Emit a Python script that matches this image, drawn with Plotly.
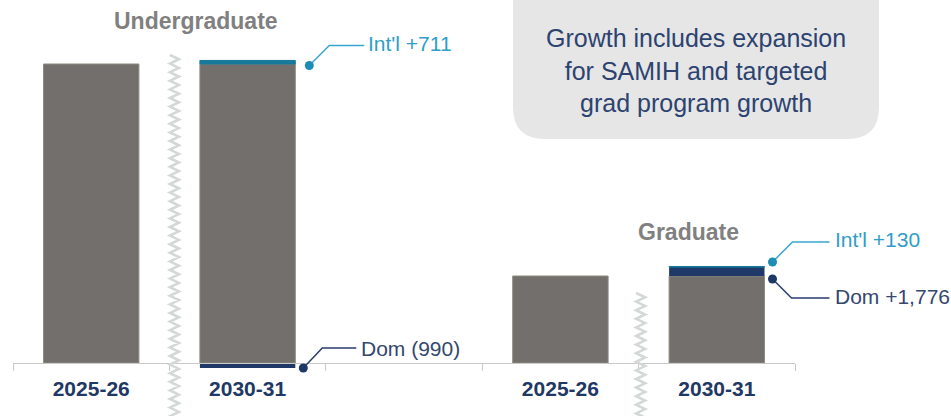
import plotly.graph_objects as go

# ---------------- data (value axis is broken, bases are estimates) -----
levels = ["Undergraduate", "Graduate"]
periods = ["2025-26", "2030-31"]
base_2025 = [59800, 17400]          # height of the 2025-26 bars (same base reused for 2030-31)
dom_change = [-990, 1776]           # domestic change 2025-26 -> 2030-31
intl_change = [711, 130]            # international change 2025-26 -> 2030-31
dom_labels = ["Dom (990)", "Dom +1,776"]
intl_labels = ["Int'l +711", "Int'l +130"]
note_lines = ["Growth includes expansion", "for SAMIH and targeted", "grad program growth"]

GAP = "gap"
cats = [f"{levels[0]} {p}" for p in periods] + [GAP] + [f"{levels[1]} {p}" for p in periods]
tick_text = periods + [""] + periods

# ---------------- styling / layout constants ----------------
W, H = 951, 416
ML, MR, MT, MB = 13, 156, 0, 0
PLOT_W = W - ML - MR
PLOT_H = H - MT - MB
UNITS_PER_PX = 200
ZERO_ROW = 363                       # pixel row of the baseline
y_range = [-(PLOT_H - (ZERO_ROW - MT)) * UNITS_PER_PX, (ZERO_ROW - MT) * UNITS_PER_PX]
x_range = [-0.5, len(cats) - 0.5]
axis_pos = -y_range[0] / (y_range[1] - y_range[0])
BAR_W = 0.61
HALF = BAR_W / 2

GRAY = "#736f6d"
GRAY_EDGE = "#8d8c7e"
NAVY = "#1e3867"
TEAL = "#17799b"
TEAL_LINE = "#3aa6cf"
TEAL_DOT = "#1c8db5"
TEAL_TEXT = "#2e9ec8"
NAVY_LINE = "#2b3d6d"
NAVY_TEXT = "#34476f"
TITLE_GRAY = "#808080"
AXIS = "#c9c9c9"
ZIG = "#d5d8d8"
BOX = "#e6e6e6"
NOTE = "#2c4370"
FONT = "Liberation Sans, Arial, sans-serif"

fig = go.Figure()

ug25, ug30, gr25, gr30 = cats[0], cats[1], cats[3], cats[4]
fig.add_bar(x=[ug25, ug30, gr25, gr30],
            y=[base_2025[0], base_2025[0], base_2025[1], base_2025[1]],
            width=BAR_W, marker=dict(color=GRAY, line=dict(color=GRAY_EDGE, width=1)),
            hoverinfo="skip", showlegend=False)
fig.add_bar(x=[ug30, gr30], y=dom_change, width=BAR_W,
            marker=dict(color=NAVY, line=dict(width=0)), hoverinfo="skip", showlegend=False)
fig.add_bar(x=[ug30, gr30], y=intl_change, width=BAR_W,
            marker=dict(color=TEAL, line=dict(color=TEAL, width=1)), hoverinfo="skip", showlegend=False)

shapes = []
annotations = []


def px_paper(px, py):
    return (px - ML) / PLOT_W, 1 - (py - MT) / PLOT_H


def x_to_paper(idx):
    return (idx - x_range[0]) / (x_range[1] - x_range[0])


def y_to_paper(v):
    return (v - y_range[0]) / (y_range[1] - y_range[0])


# rounded note box (paper anchored, pixel geometry)
def box_path(left, right, top, bottom, r):
    def P(px, py):
        return f"{px - ML:.1f},{-(py - MT):.1f}"
    return (f"M{P(left, top)} L{P(left, bottom - r)} Q{P(left, bottom)} {P(left + r, bottom)} "
            f"L{P(right - r, bottom)} Q{P(right, bottom)} {P(right, bottom - r)} L{P(right, top)} Z")


shapes.append(dict(type="path", xref="paper", yref="paper", xsizemode="pixel", ysizemode="pixel",
                   xanchor=0, yanchor=1, path=box_path(513, 879, -40, 139, 32),
                   fillcolor=BOX, line=dict(width=0), layer="below"))


# axis-break zigzags
def zigzag(x_anchor, dx, top, bottom, amp=4.5, step=4.3):
    pts = []
    y = top
    i = 0
    while y > bottom:
        pts.append((dx + (amp if i % 2 else -amp), y))
        y -= step
        i += 1
    path = "M" + " L".join(f"{a:.1f},{b:.1f}" for a, b in pts)
    return dict(type="path", xref="x", yref="y", xsizemode="pixel", ysizemode="pixel",
                xanchor=x_anchor, yanchor=0, path=path, line=dict(color=ZIG, width=2.6), layer="above")


shapes.append(zigzag(cats.index(ug25) + 0.5, 5, ZERO_ROW - 55, -60))
shapes.append(zigzag(cats.index(gr25) + 0.5, 2, ZERO_ROW - 293, -60))


# callouts: leader (dot + elbow line) anchored on the bar's right edge at a data value
def callout(cat, yv, pts, line_color, dot_color, text, text_color, tdx, tdy):
    xa = cats.index(cat) + HALF
    xp, yp = x_to_paper(xa), y_to_paper(yv)
    path = "M" + " L".join(f"{a},{b}" for a, b in pts)
    shapes.append(dict(type="path", xref="paper", yref="paper", xsizemode="pixel", ysizemode="pixel",
                       xanchor=xp, yanchor=yp, path=path, line=dict(color=line_color, width=1.5)))
    dx, dy = pts[0]
    shapes.append(dict(type="circle", xref="paper", yref="paper", xsizemode="pixel", ysizemode="pixel",
                       xanchor=xp, yanchor=yp, x0=dx - 4.5, x1=dx + 4.5, y0=dy - 4.5, y1=dy + 4.5,
                       fillcolor=dot_color, line=dict(width=0)))
    annotations.append(dict(x=xa, y=yv, xref="x", yref="y", xshift=tdx, yshift=tdy,
                            xanchor="left", yanchor="middle", showarrow=False, text=text,
                            font=dict(family=FONT, size=21, color=text_color)))


callout(ug30, base_2025[0] + intl_change[0], [(14, -5), (34, 15), (69, 15)],
        TEAL_LINE, TEAL_DOT, intl_labels[0], TEAL_TEXT, 71, 17)
callout(ug30, dom_change[0], [(8, 0), (27, 20), (61, 20)],
        NAVY_LINE, NAVY, dom_labels[0], NAVY_TEXT, 64, 19)
callout(gr30, base_2025[1] + dom_change[1] + intl_change[1], [(8, 4.5), (28, 24.5), (65, 24.5)],
        TEAL_LINE, TEAL_DOT, intl_labels[1], TEAL_TEXT, 68, 27)
callout(gr30, base_2025[1], [(8, -3), (27, -22), (65, -22)],
        NAVY_LINE, NAVY, dom_labels[1], NAVY_TEXT, 68, -20)

# group titles
for lvl, (cx, cy) in zip(levels, [(196, 21), (688, 232)]):
    x, y = px_paper(cx, cy)
    annotations.append(dict(x=x, y=y, xref="paper", yref="paper", xanchor="center", yanchor="middle",
                            showarrow=False, text=f"<b>{lvl}</b>",
                            font=dict(family=FONT, size=23, color=TITLE_GRAY)))

# note text
nx, ny = px_paper(696, 70)
annotations.append(dict(x=nx, y=ny, xref="paper", yref="paper", xanchor="center", yanchor="middle",
                        showarrow=False, align="center", text="<br>".join(note_lines),
                        font=dict(family=FONT, size=25, color=NOTE)))

fig.update_layout(
    width=W, height=H, autosize=False,
    margin=dict(l=ML, r=MR, t=MT, b=MB, pad=0),
    paper_bgcolor="white", plot_bgcolor="white",
    barmode="relative", bargap=1 - BAR_W,
    shapes=shapes, annotations=annotations,
    font=dict(family=FONT),
    xaxis=dict(type="category", categoryorder="array", categoryarray=cats, range=x_range,
               tickmode="array", tickvals=cats, ticktext=tick_text, tickson="boundaries",
               anchor="free", position=axis_pos, ticklabelstandoff=7,
               showline=True, linecolor=AXIS, linewidth=1, ticks="outside", ticklen=7,
               tickcolor=AXIS, tickwidth=1, showgrid=False, zeroline=False,
               tickfont=dict(family=FONT, size=21, color="#1f3864", weight="bold")),
    yaxis=dict(range=y_range, visible=False, showgrid=False, zeroline=False),
)

fig.write_html("out.html", config={"displayModeBar": False},
               post_script="document.body.style.margin='0';")
